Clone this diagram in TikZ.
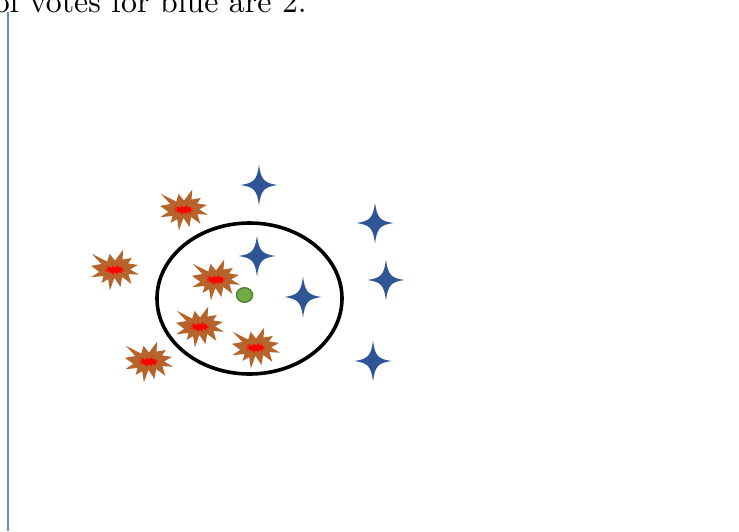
\documentclass[tikz,border=0pt]{standalone}
\usepackage{fontspec}
\usepackage{tikz}
\usetikzlibrary{shapes.geometric}
\newfontfamily\votefont{lmroman10-regular.otf}
\definecolor{burstbrown}{RGB}{182,100,44}
\definecolor{burstred}{RGB}{255,0,0}
\definecolor{starblue}{RGB}{47,85,151}
\definecolor{dotgreen}{RGB}{112,173,71}
\definecolor{dotedge}{RGB}{84,130,53}
\definecolor{axisblue}{RGB}{100,138,200}

\begin{document}
\begin{tikzpicture}[
  x=1pt,y=-1pt,
  seal/.pic={\path[pic actions,shift={(-24,-20.5)},xscale=48/216,yscale=41/216]
    (108,58) -- (145.2,0) -- (141.6,53.3) -- (183.8,44.6) -- (167,73.2) -- (211,81.4)
    -- (176.1,104.8) -- (216,132.9) -- (168.4,129.4) -- (181.5,181) -- (140.2,144.6)
    -- (132.5,197.4) -- (105.3,149.4) -- (84.9,216) -- (77.2,156.3) -- (47.6,176.2)
    -- (56.7,139.4) -- (1.4,145.9) -- (37.2,117.8) -- (0,86.2) -- (46.3,76.2)
    -- (3.7,23) -- (73.1,63.2) -- (83.5,23) -- cycle;},
  explosion/.pic={
    \pic[fill=burstbrown] {seal};
    \pic[fill=burstred,xscale=0.42,yscale=0.26] {seal};},
  sparkle/.pic={\fill[starblue] (0,-20.5) .. controls (2,-5) and (5,-2) .. (18.5,0)
    .. controls (5,2) and (2,5) .. (0,20.5) .. controls (-2,5) and (-5,2) .. (-18.5,0)
    .. controls (-5,-2) and (-2,-5) .. (0,-20.5) -- cycle;}
]
\useasboundingbox (0,0) rectangle (739,531);
\clip (0,0) rectangle (739,531);

\node[anchor=base east,inner sep=0,font=\votefont\fontsize{31.8}{38}\selectfont] (caption) at (307,12.7) {of votes for blue are 2.};
\draw[axisblue,line width=2pt] (8,12) -- (8,531);

% neighbourhood of the query point
\draw[line width=3.6pt] (249.5,298.5) ellipse [x radius=92.5, y radius=75.5];

\foreach \x/\y in {184/210, 115/270, 216/280, 200/327, 256/348, 149/362}
  \pic at (\x,\y) {explosion};
\foreach \x/\y in {259/185, 257/256, 303/297, 375/223, 386/280, 373/361}
  \pic at (\x,\y) {sparkle};

\node[ellipse,draw=dotedge,fill=dotgreen,line width=1.5pt,minimum width=16pt,minimum height=14.5pt,inner sep=0] (query) at (244.5,295) {};
\end{tikzpicture}
\end{document}
